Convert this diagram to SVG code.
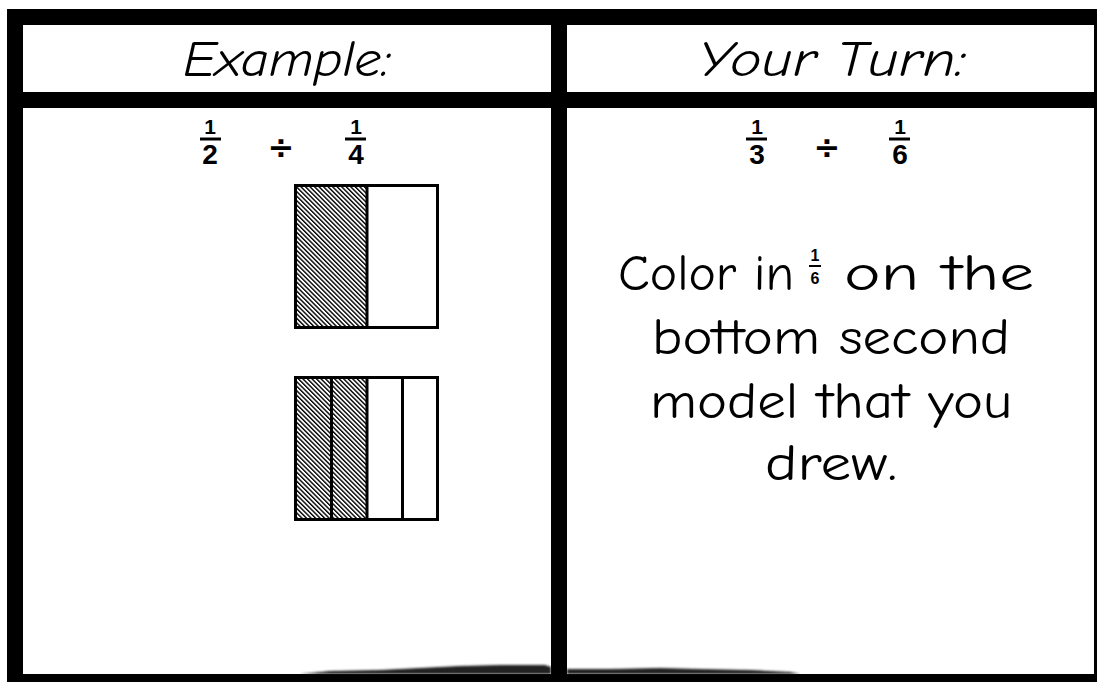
<svg xmlns="http://www.w3.org/2000/svg" width="1097" height="682" viewBox="0 0 1097 682">
<style>
.hdr{font-family:"Comic Neue","Noto Sans",sans-serif;font-style:italic;font-size:50px;fill:#000;text-anchor:middle}
.num{font-family:"Liberation Sans",Arial,sans-serif;font-weight:bold;font-size:21px;fill:#000;text-anchor:middle}
.den{font-family:"Liberation Sans",Arial,sans-serif;font-weight:bold;font-size:28px;fill:#000;text-anchor:middle}
.div{font-family:"DejaVu Sans",sans-serif;font-weight:bold;font-size:32px;fill:#000;text-anchor:middle}
.body{font-family:"Comic Neue","Noto Sans",sans-serif;font-size:51px;fill:#000}
.sm{font-family:"Liberation Sans",Arial,sans-serif;font-weight:bold;font-size:16px;fill:#000;text-anchor:middle}
.box{fill:none;stroke:#000;stroke-width:3}
.bar{stroke:#000;stroke-width:3}
</style>
<defs>
<pattern id="hatch" width="3.2" height="10" patternUnits="userSpaceOnUse" patternTransform="rotate(-45)">
<rect x="0" y="0" width="1.4" height="10" fill="#000"/>
</pattern>
<filter id="blur" x="-5%" y="-50%" width="110%" height="200%"><feGaussianBlur stdDeviation="1"/></filter>
</defs>
<rect x="0" y="0" width="1097" height="682" fill="#fff"/>
<g id="frame">
<rect x="7" y="9" width="1090" height="673" fill="#000"/>
<rect x="23" y="25" width="528" height="67" fill="#fff"/>
<rect x="567" y="25" width="527" height="67" fill="#fff"/>
<rect x="23" y="108" width="528" height="566" fill="#fff"/>
<rect x="567" y="108" width="527" height="566" fill="#fff"/>
<path d="M300 674 L330 671 L380 670 L420 668 L460 666 L500 665 L545 665 L551 667 L551 674 Z M567 674 L567 669 L610 669 L660 668 L700 669 L750 670 L790 672 L800 674 Z" fill="#222" filter="url(#blur)"/>
</g>
<g id="header-example">
<text class="hdr" x="287" y="76" textLength="208" lengthAdjust="spacingAndGlyphs">Example:</text>
</g>
<g id="header-yourturn">
<text class="hdr" x="832" y="76" textLength="268" lengthAdjust="spacingAndGlyphs">Your Turn:</text>
</g>
<g id="example-problem">
<text class="num" x="210" y="134">1</text>
<line class="bar" x1="200" y1="139" x2="221" y2="139"/>
<text class="den" x="210" y="164">2</text>
<text class="div" x="281" y="158">÷</text>
<text class="num" x="356" y="134">1</text>
<line class="bar" x1="345" y1="139" x2="366" y2="139"/>
<text class="den" x="356" y="164">4</text>
</g>
<g id="yourturn-problem">
<text class="num" x="757" y="134">1</text>
<line class="bar" x1="746" y1="139" x2="767" y2="139"/>
<text class="den" x="757" y="164">3</text>
<text class="div" x="827" y="158">÷</text>
<text class="num" x="900" y="134">1</text>
<line class="bar" x1="889" y1="139" x2="910" y2="139"/>
<text class="den" x="900" y="164">6</text>
</g>
<g id="model-half">
<rect x="296.5" y="186.5" width="70" height="141" fill="url(#hatch)"/>
<rect class="box" x="295.5" y="185.5" width="142" height="142"/>
<line class="bar" x1="367" y1="185.5" x2="367" y2="327.5"/>
</g>
<g id="model-quarters">
<rect x="296.5" y="378.5" width="70" height="141" fill="url(#hatch)"/>
<rect class="box" x="295.5" y="377.5" width="142" height="142"/>
<line class="bar" x1="331.5" y1="377.5" x2="331.5" y2="519.5"/>
<line class="bar" x1="367" y1="377.5" x2="367" y2="519.5"/>
<line class="bar" x1="402.5" y1="377.5" x2="402.5" y2="519.5"/>
</g>
<g id="instruction">
<text class="body" x="618" y="290" textLength="176" lengthAdjust="spacingAndGlyphs">Color in</text>
<text class="sm" x="815" y="261">1</text>
<line x1="809" y1="266" x2="821" y2="266" stroke="#000" stroke-width="2"/>
<text class="sm" x="815" y="284">6</text>
<text class="body" x="844" y="290" textLength="190" lengthAdjust="spacingAndGlyphs">on the</text>
<text class="body" x="652" y="354" textLength="358" lengthAdjust="spacingAndGlyphs">bottom second</text>
<text class="body" x="650" y="418" textLength="362" lengthAdjust="spacingAndGlyphs">model that you</text>
<text class="body" x="765" y="480" textLength="132" lengthAdjust="spacingAndGlyphs">drew.</text>
</g>
</svg>
